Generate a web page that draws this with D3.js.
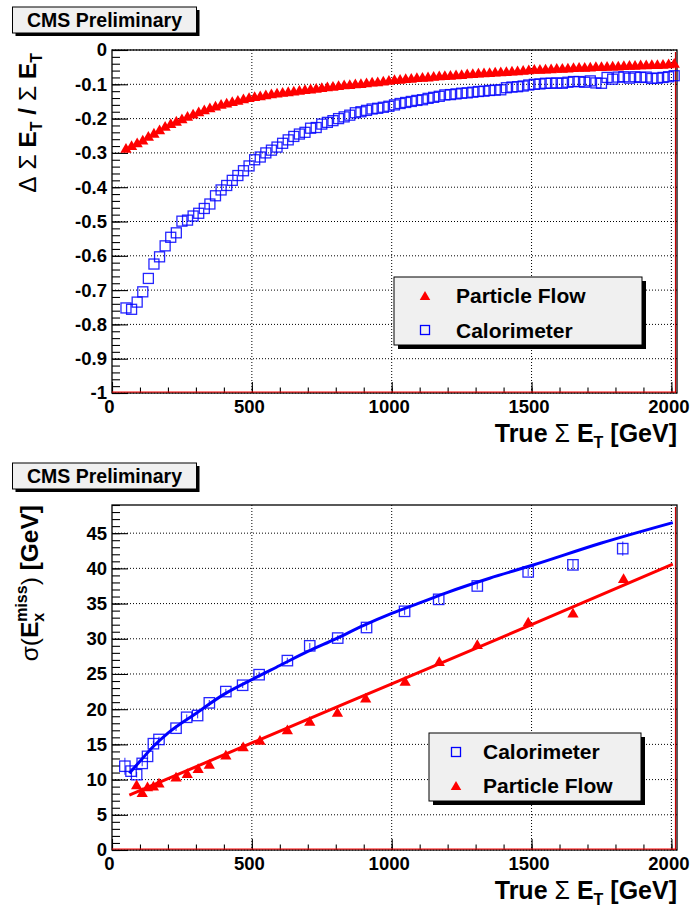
<!DOCTYPE html>
<html>
<head>
<meta charset="utf-8">
<script src="https://cdn.jsdelivr.net/npm/d3@7"></script>
<style>
  body { margin: 0; background: #fff; }
  text { font-family: "Liberation Sans", Arial, Helvetica, sans-serif; font-weight: bold; }
</style>
</head>
<body>
<div id="chart"></div>
<script>
// Define data

// top panel: relative response vs true sum ET
var topX = [50,70,90,110,130,150,170,190,210,230,250,270,290,310,330,350,370,390,410,430,
            450,470,490,510,530,550,570,590,610,630,650,670,690,710,730,750,770,790,810,830,
            850,870,890,910,930,950,970,990,1010,1030,1050,1070,1090,1110,1130,1150,1170,1190,1210,1230,
            1250,1270,1290,1310,1330,1350,1370,1390,1410,1430,1450,1470,1490,1510,1530,1550,1570,1590,1610,1630,
            1650,1670,1690,1710,1730,1750,1770,1790,1810,1830,1850,1870,1890,1910,1930,1950,1970,1990,2010];
var topPF = [-0.290,-0.282,-0.274,-0.266,-0.255,-0.246,-0.236,-0.226,-0.218,-0.211,
             -0.204,-0.197,-0.190,-0.184,-0.178,-0.172,-0.167,-0.162,-0.158,-0.154,
             -0.150,-0.146,-0.142,-0.139,-0.137,-0.134,-0.131,-0.129,-0.127,-0.125,
             -0.123,-0.121,-0.119,-0.117,-0.115,-0.113,-0.111,-0.109,-0.107,-0.105,
             -0.104,-0.102,-0.101,-0.099,-0.097,-0.096,-0.094,-0.092,-0.090,-0.089,
             -0.087,-0.086,-0.084,-0.083,-0.082,-0.080,-0.079,-0.078,-0.077,-0.076,
             -0.075,-0.073,-0.072,-0.071,-0.070,-0.069,-0.068,-0.067,-0.066,-0.065,
             -0.064,-0.063,-0.061,-0.060,-0.060,-0.059,-0.058,-0.057,-0.057,-0.056,
             -0.055,-0.054,-0.054,-0.053,-0.052,-0.052,-0.051,-0.050,-0.050,-0.049,
             -0.048,-0.048,-0.047,-0.047,-0.046,-0.046,-0.045,-0.044,-0.042];
var topCalo = [-0.752,-0.756,-0.735,-0.705,-0.666,-0.624,-0.603,-0.571,-0.546,-0.533,
               -0.499,-0.496,-0.484,-0.476,-0.462,-0.449,-0.425,-0.408,-0.395,-0.380,
               -0.366,-0.352,-0.338,-0.320,-0.312,-0.300,-0.292,-0.283,-0.272,-0.262,
               -0.252,-0.245,-0.240,-0.228,-0.226,-0.216,-0.211,-0.206,-0.200,-0.195,
               -0.190,-0.183,-0.180,-0.176,-0.172,-0.170,-0.167,-0.164,-0.160,-0.156,
               -0.153,-0.150,-0.147,-0.145,-0.141,-0.138,-0.135,-0.131,-0.130,-0.128,
               -0.126,-0.125,-0.123,-0.121,-0.120,-0.118,-0.117,-0.116,-0.110,-0.108,
               -0.107,-0.105,-0.102,-0.100,-0.099,-0.097,-0.097,-0.096,-0.097,-0.094,
               -0.092,-0.092,-0.094,-0.090,-0.096,-0.097,-0.080,-0.085,-0.079,-0.078,
               -0.082,-0.078,-0.080,-0.079,-0.083,-0.082,-0.080,-0.078,-0.075];

// bottom panel: MET-x resolution
var botCaloX = [46,68,88,108,127,148,168,229,267,306,348,407,467,526,627,707,807,910,1046,1168,1306,1488,1648,1826];
var botCaloY = [11.9,11.2,10.7,12.3,13.3,15.1,15.7,17.3,18.85,19.1,20.9,22.5,23.4,24.9,26.9,29.0,30.1,31.6,33.9,35.6,37.5,39.5,40.5,42.8];
var botCaloErr = [1.2,0.4,0.4,0.4,0.4,0.4,0.4,0.4,0.4,0.4,0.4,0.4,0.4,0.4,0.4,0.4,0.4,0.4,0.5,0.5,0.5,0.6,0.7,1.0];
var botPFX = [88,108,127,148,168,229,269,308,348,407,469,529,627,707,806,907,1048,1170,1306,1488,1648,1829];
var botPFY = [9.1,8.0,8.8,8.9,9.35,10.2,10.7,11.4,12.0,13.3,14.5,15.4,16.9,18.1,19.4,21.4,23.8,26.6,29.0,32.2,33.5,38.4];

// fitted curves
var fitCaloX = [62,100,150,200,300,400,500,600,700,800,900,1000,1100,1200,1350,1500,1750,2005];
var fitCaloY = [10.9,12.6,14.8,16.6,19.4,22.1,24.2,26.2,28.2,30.0,31.9,33.6,35.1,36.6,38.6,40.4,43.6,46.5];
var fitPFX = [62,500,1000,1500,2005];
var fitPFY = [7.8,15.2,23.6,32.0,40.6];

// ticks
var xTicks = [0,500,1000,1500,2000];
var xLabels = ['0','500','1000','1500','2000'];
var topYTicks = [0,-0.1,-0.2,-0.3,-0.4,-0.5,-0.6,-0.7,-0.8,-0.9,-1];
var topYLabels = ['0','-0.1','-0.2','-0.3','-0.4','-0.5','-0.6','-0.7','-0.8','-0.9','-1'];
var botYTicks = [0,5,10,15,20,25,30,35,40,45];
var botYLabels = ['0','5','10','15','20','25','30','35','40','45'];

//Generate SVG
var width=691, height=910;
var margin={left:112, right:677};

var svg = d3.select('#chart')
            .append('svg')
            .attr('width',width)
            .attr('height',height)
            .style('background','#fff');

var xScale = d3.scaleLinear().domain([0,2020]).range([margin.left, margin.right]);

function drawPanel(top, bottom, yScale, yTicks, yLabels, yMinor, boxY){
  // CMS box
  svg.append('rect').attr('x',15.5).attr('y',boxY+3).attr('width',184).attr('height',26).attr('fill','#000');
  svg.append('rect').attr('x',12.5).attr('y',boxY).attr('width',184).attr('height',26)
     .attr('fill','#f0f0f0').attr('stroke','#000').attr('stroke-width',1);
  svg.append('text').attr('x',104.5).attr('y',boxY+19.5).attr('text-anchor','middle')
     .style('font-size','19.5px').text('CMS Preliminary');

  // grid
  svg.append('g').selectAll('line').data(xTicks.filter(function(d){return d>0;})).enter()
     .append('line')
     .attr('x1',function(d){return xScale(d);}).attr('x2',function(d){return xScale(d);})
     .attr('y1',top).attr('y2',bottom)
     .attr('stroke','#000').attr('stroke-width',1).attr('stroke-dasharray','1,2');
  svg.append('g').selectAll('line').data(yTicks).enter()
     .append('line')
     .attr('x1',margin.left).attr('x2',margin.right)
     .attr('y1',function(d){return yScale(d);}).attr('y2',function(d){return yScale(d);})
     .attr('stroke','#000').attr('stroke-width',1).attr('stroke-dasharray','1,2');

  // axes
  var xMajor = svg.append('g').attr('transform',`translate(0,${bottom})`)
     .call(d3.axisBottom(xScale).tickValues(xTicks).tickSize(-11).tickPadding(7).tickFormat(function(d,i){return xLabels[i];}));
  var xMin = svg.append('g').attr('transform',`translate(0,${bottom})`)
     .call(d3.axisBottom(xScale).tickValues(d3.range(0,2001,100)).tickSize(-5.5).tickFormat(''));
  var yMajor = svg.append('g').attr('transform',`translate(${margin.left},0)`)
     .call(d3.axisLeft(yScale).tickValues(yTicks).tickSize(-16).tickPadding(5).tickFormat(function(d,i){return yLabels[i];}));
  var yMin = svg.append('g').attr('transform',`translate(${margin.left},0)`)
     .call(d3.axisLeft(yScale).tickValues(yMinor).tickSize(-8).tickFormat(''));
  [xMajor,xMin,yMajor,yMin].forEach(function(a){
    a.select('.domain').remove();
    a.selectAll('line').attr('stroke','#000').attr('stroke-width',1.1);
    a.selectAll('text').attr('fill','#000')
     .style('font-family','"Liberation Sans", Arial, sans-serif')
     .style('font-weight','bold').style('font-size','18.5px');
  });
  xMajor.selectAll('text').attr('dx',-3);

  // frame
  svg.append('rect').attr('x',margin.left).attr('y',top)
     .attr('width',margin.right-margin.left).attr('height',bottom-top)
     .attr('fill','none').attr('stroke','#000').attr('stroke-width',1.3);
  svg.append('line').attr('x1',margin.left).attr('x2',margin.right-1).attr('y1',bottom-1).attr('y2',bottom-1)
     .attr('stroke','#f00').attr('stroke-width',1);
  svg.append('line').attr('x1',margin.right-1.5).attr('x2',margin.right-1.5).attr('y1',top+2).attr('y2',bottom)
     .attr('stroke','#c00').attr('stroke-width',1.2);

  // x title
  var xt = svg.append('text').attr('x',677).attr('y',bottom+49).attr('text-anchor','end').style('font-size','25px');
  xt.append('tspan').text('True');
  xt.append('tspan').style('font-weight','normal').text('\u00a0\u03a3\u00a0');
  xt.append('tspan').text('E');
  xt.append('tspan').attr('dy',6).style('font-size','16px').text('T');
  xt.append('tspan').attr('dy',-6).text('\u00a0[GeV]');
}

function legend(x0, y0, w, h, entries){
  svg.append('rect').attr('x',x0+4).attr('y',y0+4).attr('width',w).attr('height',h).attr('fill','#000');
  svg.append('rect').attr('x',x0).attr('y',y0).attr('width',w).attr('height',h)
     .attr('fill','#f0f0f0').attr('stroke','#000').attr('stroke-width',1);
  entries.forEach(function(e){
    if(e.kind==='tri'){
      svg.append('path').attr('transform',`translate(${e.mx},${e.my})`)
         .attr('d',d3.symbol(d3.symbolTriangle,48)()).attr('fill','#f00');
    } else {
      svg.append('rect').attr('x',e.mx-4.5).attr('y',e.my-4.5).attr('width',9).attr('height',9)
         .attr('fill','none').attr('stroke','#00f').attr('stroke-width',1.3);
    }
    svg.append('text').attr('x',e.tx).attr('y',e.ty).style('font-size','21px').text(e.label);
  });
}

// ---------- Top panel ----------
var yTop = d3.scaleLinear().domain([-1,0]).range([393,50]);
drawPanel(50, 393, yTop, topYTicks, topYLabels, d3.range(-1,0.001,0.02), 7);

var yt = svg.append('text').attr('transform','translate(36,53) rotate(-90)').attr('text-anchor','end').style('font-size','24.5px');
yt.append('tspan').style('font-weight','normal').text('\u0394\u00a0\u03a3\u00a0');
yt.append('tspan').text('E');
yt.append('tspan').attr('dy',6).style('font-size','16px').text('T');
yt.append('tspan').attr('dy',-6).text('\u00a0/\u00a0');
yt.append('tspan').style('font-weight','normal').text('\u03a3\u00a0');
yt.append('tspan').text('E');
yt.append('tspan').attr('dy',6).style('font-size','16px').text('T');

//Draw points
svg.append('g').selectAll('path').data(topX).enter().append('path')
   .attr('transform',function(d,i){return `translate(${xScale(d)},${yTop(topPF[i])})`;})
   .attr('d',d3.symbol(d3.symbolTriangle,55)()).attr('fill','#f00');
svg.append('g').selectAll('rect').data(topX).enter().append('rect')
   .attr('x',function(d){return xScale(d)-5;})
   .attr('y',function(d,i){return yTop(topCalo[i])-5;})
   .attr('width',10).attr('height',10)
   .attr('fill','none').attr('stroke','#00f').attr('stroke-width',1.3).attr('stroke-opacity',0.85);

legend(394, 277, 248, 68, [
  {kind:'tri', mx:425, my:297, tx:456, ty:303, label:'Particle Flow'},
  {kind:'sq',  mx:425, my:330, tx:456, ty:338, label:'Calorimeter'}
]);

// ---------- Bottom panel ----------
var yBot = d3.scaleLinear().domain([0,49]).range([850,505]);
drawPanel(505, 850, yBot, botYTicks, botYLabels, d3.range(0,49.01,1), 463);

var yb = svg.append('text').attr('transform','translate(38,505) rotate(-90)').attr('text-anchor','end').style('font-size','24.5px');
yb.append('tspan').style('font-weight','normal').text('\u03c3(');
yb.append('tspan').text('E');
yb.append('tspan').attr('dy',6).style('font-size','16px').text('x');
yb.append('tspan').attr('dx',-9).attr('dy',-17).style('font-size','16px').text('miss');
yb.append('tspan').attr('dy',11).style('font-weight','normal').text(')');
yb.append('tspan').text('\u00a0[GeV]');

// fits
var lineGen = d3.line().x(function(d){return xScale(d[0]);}).y(function(d){return yBot(d[1]);}).curve(d3.curveMonotoneX);
svg.append('path').datum(fitCaloX.map(function(d,i){return [d,fitCaloY[i]];}))
   .attr('d',lineGen).attr('fill','none').attr('stroke','#00f').attr('stroke-width',3);
svg.append('path').datum(fitPFX.map(function(d,i){return [d,fitPFY[i]];}))
   .attr('d',lineGen).attr('fill','none').attr('stroke','#f00').attr('stroke-width',3);

// error bars (calo)
svg.append('g').selectAll('line').data(botCaloX).enter().append('line')
   .attr('x1',function(d){return xScale(d);}).attr('x2',function(d){return xScale(d);})
   .attr('y1',function(d,i){return yBot(botCaloY[i]+botCaloErr[i]);})
   .attr('y2',function(d,i){return yBot(botCaloY[i]-botCaloErr[i]);})
   .attr('stroke','#00f').attr('stroke-width',1.2).attr('stroke-opacity',0.7);

svg.append('g').selectAll('rect').data(botCaloX).enter().append('rect')
   .attr('x',function(d){return xScale(d)-5.2;})
   .attr('y',function(d,i){return yBot(botCaloY[i])-5.2;})
   .attr('width',10.4).attr('height',10.4)
   .attr('fill','#fff').attr('fill-opacity',0).attr('stroke','#00f').attr('stroke-width',1.3).attr('stroke-opacity',0.85);
svg.append('g').selectAll('path').data(botPFX).enter().append('path')
   .attr('transform',function(d,i){return `translate(${xScale(d)},${yBot(botPFY[i])})`;})
   .attr('d',d3.symbol(d3.symbolTriangle,55)()).attr('fill','#f00');

legend(429, 733, 212, 68, [
  {kind:'sq',  mx:456, my:752, tx:483, ty:759, label:'Calorimeter'},
  {kind:'tri', mx:456, my:787, tx:483, ty:793, label:'Particle Flow'}
]);
</script>
</body>
</html>
